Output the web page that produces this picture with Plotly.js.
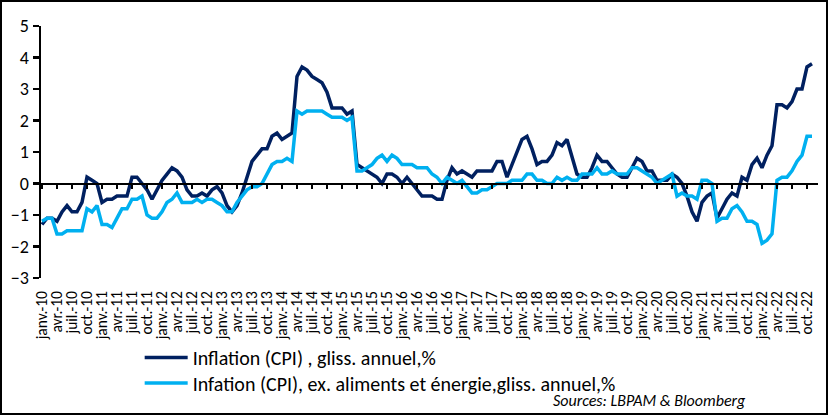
<!DOCTYPE html>
<html>
<head>
<meta charset="utf-8">
<script src="https://cdn.plot.ly/plotly-3.0.1.min.js"></script>
<style>
html,body{margin:0;padding:0;background:#fff;overflow:hidden;}
#wrap{width:828px;height:415px;box-sizing:border-box;border:2px solid #000;background:#fff;}
#chart{width:824px;height:411px;}
</style>
</head>
<body>
<div id="wrap"><div id="chart"></div></div>
<script>
// Month labels (French Excel format), Jan 2010 -> Nov 2022
const monthNames = ['janv.','févr.','mars','avr.','mai','juin','juil.','août','sept.','oct.','nov.','déc.'];
const startYear = 2010;
const nMonths = 155;
const categories = [];
for (let i = 0; i < nMonths; i++) {
  const y = startYear + Math.floor(i / 12);
  categories.push(monthNames[i % 12] + '-' + String(y).slice(2));
}
const tickLabels = categories.filter((c, i) => i % 3 === 0);

// Inflation (CPI), y/y %
const cpiHeadline = [
  -1.3,-1.1,-1.1,-1.2,-0.9,-0.7,-0.9,-0.9,-0.6, 0.2, 0.1, 0.0,
  -0.6,-0.5,-0.5,-0.4,-0.4,-0.4, 0.2, 0.2, 0.0,-0.2,-0.5,-0.2,
   0.1, 0.3, 0.5, 0.4, 0.2,-0.2,-0.4,-0.4,-0.3,-0.4,-0.2,-0.1,
  -0.3,-0.7,-0.9,-0.7,-0.3, 0.2, 0.7, 0.9, 1.1, 1.1, 1.5, 1.6,
   1.4, 1.5, 1.6, 3.4, 3.7, 3.6, 3.4, 3.3, 3.2, 2.9, 2.4, 2.4,
   2.4, 2.2, 2.3, 0.6, 0.5, 0.4, 0.3, 0.2, 0.0, 0.3, 0.3, 0.2,
   0.0, 0.2, 0.0,-0.2,-0.4,-0.4,-0.4,-0.5,-0.5, 0.1, 0.5, 0.3,
   0.4, 0.3, 0.2, 0.4, 0.4, 0.4, 0.4, 0.7, 0.7, 0.2, 0.6, 1.0,
   1.4, 1.5, 1.1, 0.6, 0.7, 0.7, 0.9, 1.3, 1.2, 1.4, 0.8, 0.3,
   0.2, 0.2, 0.5, 0.9, 0.7, 0.7, 0.5, 0.3, 0.2, 0.2, 0.5, 0.8,
   0.7, 0.4, 0.4, 0.1, 0.1, 0.1, 0.3, 0.2, 0.0,-0.4,-0.9,-1.2,
  -0.6,-0.4,-0.3,-1.1,-0.8,-0.5,-0.3,-0.4, 0.2, 0.1, 0.6, 0.8,
   0.5, 0.9, 1.2, 2.5, 2.5, 2.4, 2.6, 3.0, 3.0, 3.7, 3.8
];
// Inflation (CPI) ex. food and energy, y/y %
const cpiCore = [
  -1.2,-1.1,-1.1,-1.6,-1.6,-1.5,-1.5,-1.5,-1.5,-0.8,-0.9,-0.7,
  -1.3,-1.3,-1.4,-1.1,-0.8,-0.8,-0.5,-0.5,-0.4,-1.0,-1.1,-1.1,
  -0.9,-0.6,-0.5,-0.3,-0.6,-0.6,-0.6,-0.5,-0.6,-0.5,-0.5,-0.6,
  -0.7,-0.9,-0.9,-0.6,-0.4,-0.2,-0.1,-0.1, 0.0, 0.3, 0.6, 0.7,
   0.7, 0.8, 0.7, 2.3, 2.2, 2.3, 2.3, 2.3, 2.3, 2.2, 2.1, 2.1,
   2.1, 2.0, 2.1, 0.4, 0.4, 0.5, 0.6, 0.8, 0.9, 0.7, 0.9, 0.8,
   0.6, 0.6, 0.6, 0.5, 0.5, 0.5, 0.3, 0.2, 0.0, 0.2, 0.1, 0.0,
   0.1,-0.1,-0.3,-0.3,-0.2,-0.2,-0.1, 0.0, 0.0, 0.0, 0.1, 0.1,
   0.1, 0.3, 0.3, 0.1, 0.1, 0.0, 0.0, 0.2, 0.1, 0.2, 0.1, 0.1,
   0.3, 0.3, 0.3, 0.5, 0.3, 0.3, 0.4, 0.3, 0.3, 0.3, 0.5, 0.5,
   0.4, 0.3, 0.2, 0.0, 0.1, 0.2, 0.3,-0.4,-0.3,-0.4,-0.4,-0.5,
   0.1, 0.1, 0.0,-1.2,-1.1,-1.1,-0.8,-0.7,-0.9,-1.2,-1.2,-1.3,
  -1.9,-1.8,-1.6, 0.1, 0.2, 0.2, 0.4, 0.7, 0.9, 1.5, 1.5
];
const seriesNames = [
  'Inflation (CPI) , gliss. annuel,%',
  'Infation (CPI), ex. aliments et énergie,gliss. annuel,%'
];
const sourceText = 'Sources: LBPAM & Bloomberg';

const FONT = 'Carlito, Lato, "Liberation Sans", sans-serif';

const traces = [
  {x: categories, y: cpiHeadline, type: 'scatter', mode: 'lines', name: seriesNames[0],
   line: {color: '#002060', width: 3.5}, xaxis: 'x', yaxis: 'y', legend: 'legend'},
  {x: categories, y: cpiCore, type: 'scatter', mode: 'lines', name: seriesNames[1],
   line: {color: '#00B0F0', width: 3.5}, xaxis: 'x2', yaxis: 'y', legend: 'legend2'}
];

const legendBase = {
  orientation: 'v', x: 0.127, xanchor: 'left', yanchor: 'middle',
  font: {size: 20, family: FONT, color: '#000'},
  bgcolor: 'rgba(0,0,0,0)', itemwidth: 43
};

const layout = {
  width: 824, height: 411,
  margin: {l: 39, r: 8, t: 24, b: 135},
  paper_bgcolor: '#fff', plot_bgcolor: '#fff',
  font: {family: FONT, color: '#000'},
  showlegend: true,
  hovermode: false,
  xaxis: {
    type: 'category', categoryorder: 'array', categoryarray: categories,
    range: [-0.2, 155.2],
    tickmode: 'array', tickvals: tickLabels, ticktext: tickLabels,
    tickangle: -90, tickfont: {size: 15.5, family: FONT, color: '#000'},
    ticks: '', showline: false, showgrid: false, zeroline: false,
    ticklabelstandoff: 9
  },
  xaxis2: {
    type: 'category', matches: 'x', overlaying: 'x', anchor: 'free', position: 0.375,
    tickmode: 'array', tickvals: tickLabels,
    showticklabels: false, ticks: 'outside', ticklen: 4, tickwidth: 2, tickcolor: '#000',
    showline: true, linewidth: 2.5, linecolor: '#000', showgrid: false, zeroline: false
  },
  yaxis: {
    range: [-3, 5], dtick: 1, tick0: 0,
    ticks: 'outside', ticklen: 6, tickwidth: 2.5, tickcolor: '#000',
    showline: true, linewidth: 2.5, linecolor: '#000',
    showgrid: false, zeroline: false,
    tickfont: {size: 18, family: FONT, color: '#000'}
  },
  legend: Object.assign({}, legendBase, {y: -0.315}),
  legend2: Object.assign({}, legendBase, {y: -0.4167}),
  annotations: [{
    text: '<i>' + sourceText + '</i>', xref: 'paper', yref: 'paper',
    x: 0.91, y: -0.488, xanchor: 'right', yanchor: 'middle', showarrow: false,
    font: {size: 16, family: FONT, color: '#000'}
  }]
};

Plotly.newPlot('chart', traces, layout, {displayModeBar: false, staticPlot: true});
</script>
</body>
</html>
